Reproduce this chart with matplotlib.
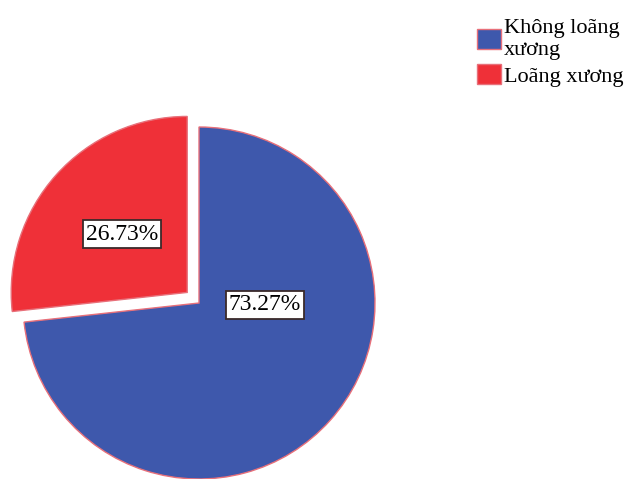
import matplotlib.pyplot as plt

labels = ['Không loãng\nxương', 'Loãng xương']
values = [73.27, 26.73]
colors = ['#3E58AC', '#EF3038']

plt.rcParams['font.family'] = ['Liberation Serif', 'DejaVu Serif']

fig = plt.figure(figsize=(6.32, 4.79), dpi=100)
ax = fig.add_axes([0, 0, 1, 1])

# pie center (199, 303) px, radius 176 px
r = 176.0
wedges, _ = ax.pie(values, colors=colors, startangle=90, counterclock=False,
                   explode=[0, 0.09], radius=1,
                   wedgeprops=dict(edgecolor='#E8707A', linewidth=1))
ax.set_xlim(-199 / r, (632 - 199) / r)
ax.set_ylim(-(479 - 303) / r, 303 / r)
ax.set_aspect('auto')
ax.axis('off')

box = dict(boxstyle='square,pad=0.13', facecolor='white', edgecolor='#3a2a2a', linewidth=1.3)
ax.text(66 / r, -2 / r, f'{values[0]:.2f}%', ha='center', va='center', fontsize=17, bbox=box)
ax.text(-77 / r, 69 / r, f'{values[1]:.2f}%', ha='center', va='center', fontsize=17, bbox=box)

leg = fig.legend(wedges, labels, loc='upper left', bbox_to_anchor=(477 / 632, 1 - 19 / 479),
                 frameon=False, fontsize=16, handlelength=1.1, handleheight=1.0,
                 handletextpad=0.12, labelspacing=0.2, borderpad=0, borderaxespad=0)
for t in leg.get_texts():
    t.set_linespacing(1.2)

fig.savefig('out.png', dpi=100)
